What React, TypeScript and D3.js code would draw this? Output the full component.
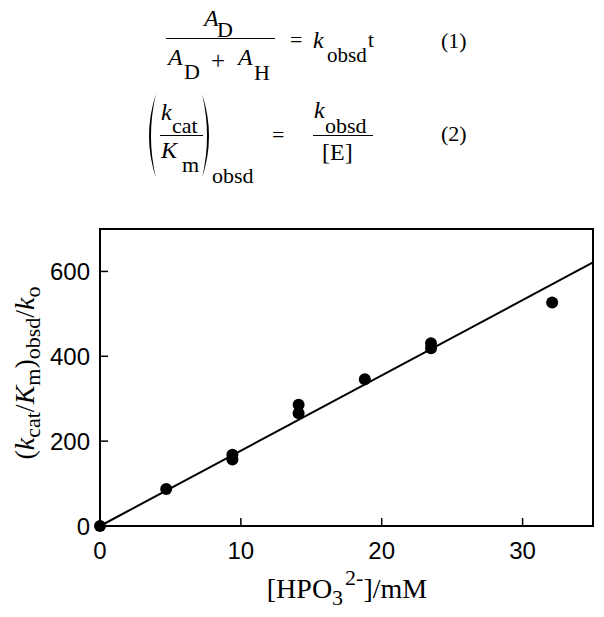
import React from 'react';
import * as d3 from 'd3';

// data
const xValues = [0, 4.7, 9.4, 9.4, 14.1, 14.1, 18.8, 23.5, 23.5, 32.1];
const yValues = [0, 87, 157, 168, 266, 286, 346, 419, 431, 527];
const xTicks = [0, 10, 20, 30];
const yTicks = [0, 200, 400, 600];
const fitSlope = 17.75;
const fitIntercept = 0;
const xDomain = [0, 35];
const yDomain = [0, 700];

const width = 604;
const height = 617;
const frame = { left: 100, right: 593, top: 229, bottom: 526 };

const serif = '"Liberation Serif", "Times New Roman", serif';
const sans = '"Liberation Sans", Arial, sans-serif';

const T = ({ x, y, children, it = false, size = 24, anchor = 'start' }: any) => (
    <text x={x} y={y} fontFamily={serif} fontSize={size} fontStyle={it ? 'italic' : 'normal'} textAnchor={anchor}>
        {children}
    </text>
);

const Equations = () => (
    <g fill="#000">
        {/* eq 1 */}
        <T x={204} y={26} it>A</T>
        <T x={217} y={37} size={22}>D</T>
        <line x1={166} x2={275} y1={38.5} y2={38.5} stroke="#000" strokeWidth={1.2} />
        <T x={168} y={65} it>A</T>
        <T x={184} y={79} size={22}>D</T>
        <T x={211} y={69} size={25}>+</T>
        <T x={238} y={65} it>A</T>
        <T x={254} y={80} size={22}>H</T>
        <T x={290} y={47} size={22}>=</T>
        <T x={313} y={48} it>k</T>
        <T x={327} y={62} size={21}>obsd</T>
        <T x={368} y={47} size={21}>t</T>
        <T x={441} y={48} size={22}>(1)</T>

        {/* eq 2 */}
        <path d="M156,94 Q142,136 156,178 Q146,136 156,94 Z" />
        <path d="M202,94 Q216,136 202,178 Q212,136 202,94 Z" />
        <T x={161} y={120} it>k</T>
        <T x={172} y={133} size={22}>cat</T>
        <line x1={160} x2={203} y1={135.5} y2={135.5} stroke="#000" strokeWidth={1.2} />
        <T x={161} y={158} it>K</T>
        <T x={182} y={172} size={22}>m</T>
        <T x={212} y={183} size={22}>obsd</T>
        <T x={272} y={142} size={22}>=</T>
        <T x={314} y={118} it>k</T>
        <T x={325} y={133} size={22}>obsd</T>
        <line x1={313} x2={373} y1={135.5} y2={135.5} stroke="#000" strokeWidth={1.2} />
        <T x={322} y={160} size={24}>[E]</T>
        <T x={441} y={141} size={22}>(2)</T>
    </g>
);

export default function App() {
    const x = d3.scaleLinear().domain(xDomain).range([frame.left, frame.right]);
    const y = d3.scaleLinear().domain(yDomain).range([frame.bottom, frame.top]);
    const points = xValues.map((v, i) => [v, yValues[i]]);
    const fitLine = d3.line<number>()
        .x(d => x(d))
        .y(d => y(fitIntercept + fitSlope * d));

    return (
        <div style={{ position: 'absolute', left: 0, top: 0 }}>
            <svg width={width} height={height} style={{ display: 'block', background: '#fff' }}>
                <Equations />

                {/* frame */}
                <rect x={frame.left} y={frame.top} width={frame.right - frame.left} height={frame.bottom - frame.top}
                    fill="none" stroke="#000" strokeWidth={2} />

                {/* ticks */}
                {xTicks.map(t => (
                    <g key={'x' + t}>
                        <line x1={x(t)} x2={x(t)} y1={frame.bottom} y2={frame.bottom - 8} stroke="#000" strokeWidth={1.5} />
                        <text x={x(t)} y={frame.bottom + 33} textAnchor="middle" fontFamily={sans} fontSize={24}>{t}</text>
                    </g>
                ))}
                {yTicks.map(t => (
                    <g key={'y' + t}>
                        <line x1={frame.left} x2={frame.left + 8} y1={y(t)} y2={y(t)} stroke="#000" strokeWidth={1.5} />
                        <text x={frame.left - 10} y={y(t)} dy="0.36em" textAnchor="end" fontFamily={sans} fontSize={24}>{t}</text>
                    </g>
                ))}

                {/* fit line */}
                <path d={fitLine(xDomain) || ''} fill="none" stroke="#000" strokeWidth={2} />

                {/* points */}
                {points.map((p, i) => (
                    <circle key={i} cx={x(p[0])} cy={y(p[1])} r={6} fill="#000" />
                ))}

                {/* axis titles */}
                <text x={347} y={598} textAnchor="middle" fontFamily={serif} fontSize={28}>
                    [HPO<tspan fontSize={22} dy={7}>3</tspan><tspan fontSize={22} dx={2} dy={-20}>2-</tspan><tspan dy={13}>]/mM</tspan>
                </text>
                <text transform="translate(34,373) rotate(-90)" textAnchor="middle" fontFamily={serif} fontSize={28}>
                    (<tspan fontStyle="italic">k</tspan><tspan fontSize={22} dy={6}>cat</tspan><tspan dy={-6}>/</tspan><tspan fontStyle="italic">K</tspan><tspan fontSize={22} dy={6}>m</tspan><tspan dy={-6}>)</tspan><tspan fontSize={22} dy={6}>obsd</tspan><tspan dy={-6}>/</tspan><tspan fontStyle="italic">k</tspan><tspan fontSize={22} dy={6}>o</tspan>
                </text>
            </svg>
        </div>
    );
}
